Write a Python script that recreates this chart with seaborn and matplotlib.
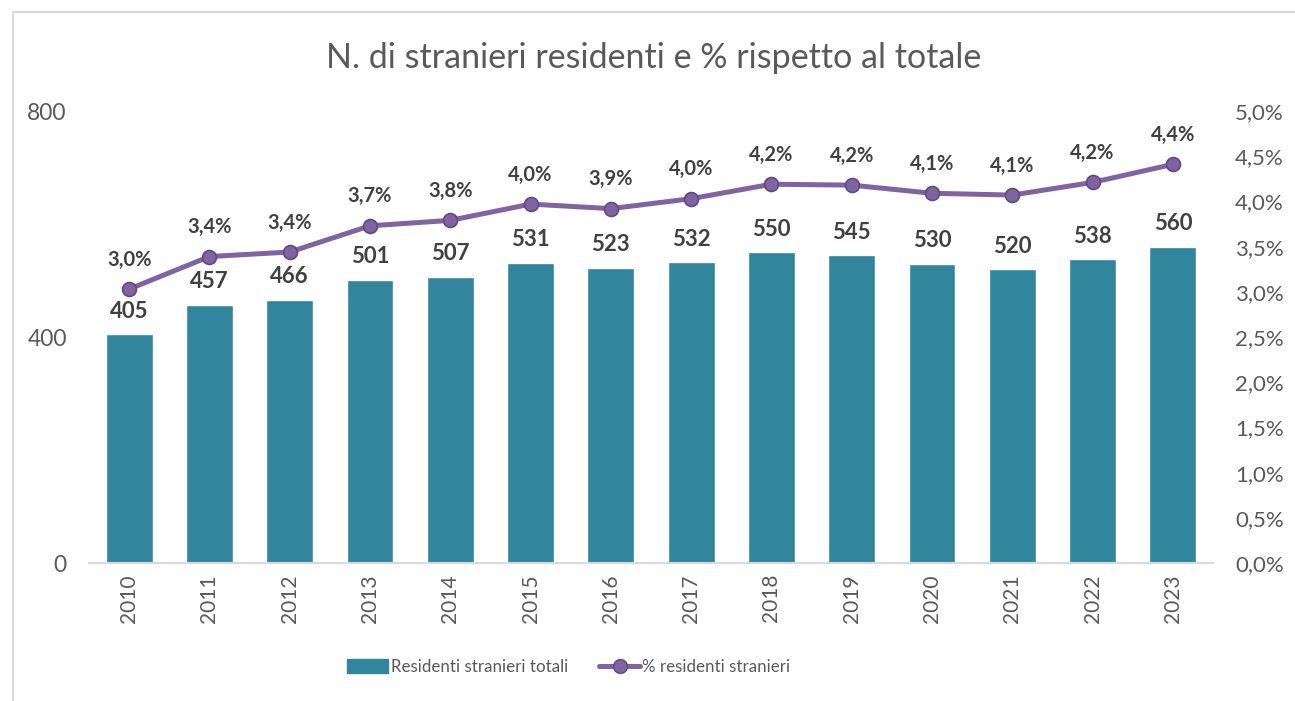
import pandas as pd
import seaborn as sns
import matplotlib.pyplot as plt
from matplotlib.lines import Line2D
from matplotlib.patches import Patch

anni = ["2010", "2011", "2012", "2013", "2014", "2015", "2016",
        "2017", "2018", "2019", "2020", "2021", "2022", "2023"]
residenti = [405, 457, 466, 501, 507, 531, 523, 532, 550, 545, 530, 520, 538, 560]
perc = [3.03, 3.39, 3.44, 3.73, 3.79, 3.97, 3.92, 4.03, 4.19, 4.18, 4.09, 4.07, 4.21, 4.41]

df = pd.DataFrame({"anno": anni, "residenti": residenti, "perc": perc})

TEAL = "#31859C"
PURPLE = "#8064A2"
PURPLE_EDGE = "#5E4A7E"
GRAY = "#595959"
DARK = "#404040"

sns.set_style("white")
plt.rcParams["font.family"] = ["Lato", "DejaVu Sans"]

fig = plt.figure(figsize=(12.95, 7.01), dpi=100)
ax = fig.add_axes([89 / 1295, 1 - 563 / 701, 1124 / 1295, 452 / 701])

sns.barplot(data=df, x="anno", y="residenti", color=TEAL, width=0.585,
            saturation=1, ax=ax)
ax.set_ylim(0, 800)
ax.set_yticks([0, 400, 800])
ax.set_xlim(-0.5, len(anni) - 0.5)
ax.set_xlabel("")
ax.set_ylabel("")
for s in ["top", "right", "left"]:
    ax.spines[s].set_visible(False)
ax.spines["bottom"].set_color("#D9D9D9")
ax.spines["bottom"].set_linewidth(1.5)
ax.tick_params(axis="y", length=0, labelsize=16.5, labelcolor=GRAY, pad=16)
ax.tick_params(axis="x", length=0, labelsize=15, labelcolor=GRAY, rotation=90, pad=8)

# etichette barre
for i, v in enumerate(residenti):
    ax.annotate(str(v), (i, v), xytext=(0, 9), textcoords="offset points",
                ha="center", va="bottom", fontsize=16, fontweight="bold", color=DARK)

ax2 = ax.twinx()
sns.pointplot(data=df, x="anno", y="perc", color=PURPLE, markers="o",
              linewidth=3.6, markersize=10, markeredgecolor=PURPLE_EDGE,
              markeredgewidth=1.2, ax=ax2)
ax2.set_ylim(0, 5)
ax2.set_xlim(-0.5, len(anni) - 0.5)
ax2.set_yticks([i * 0.5 for i in range(11)])
ax2.set_yticklabels([f"{i * 0.5:.1f}%".replace(".", ",") for i in range(11)])
ax2.set_ylabel("")
for s in ["top", "right", "left", "bottom"]:
    ax2.spines[s].set_visible(False)
ax2.tick_params(axis="y", length=0, labelsize=16, labelcolor=GRAY, pad=16)

for i, v in enumerate(perc):
    ax2.annotate(f"{v:.1f}%".replace(".", ","), (i, v), xytext=(0, 14),
                 textcoords="offset points", ha="center", va="bottom",
                 fontsize=14.5, fontweight="bold", color=DARK)

fig.text(0.505, 1 - 58 / 701, "N. di stranieri residenti e % rispetto al totale",
         ha="center", va="center", fontsize=24.5, color=GRAY)

handles = [Patch(facecolor=TEAL, edgecolor=TEAL),
           Line2D([0], [0], color=PURPLE, lw=3.6, marker="o", markersize=10,
                  markeredgecolor=PURPLE_EDGE)]
fig.legend(handles, ["Residenti stranieri totali", "% residenti stranieri"],
           loc="center", bbox_to_anchor=(569 / 1295, 1 - 667 / 701), ncol=2,
           frameon=False, fontsize=12.2, labelcolor=GRAY, handlelength=2.4,
           handleheight=0.9, handletextpad=0.15, columnspacing=1.85)

# bordo del grafico
fig.add_artist(Line2D([13 / 1295, 13 / 1295], [0, 1 - 12 / 701], color="#D9D9D9",
                      lw=1.5, transform=fig.transFigure))
fig.add_artist(Line2D([13 / 1295, 1], [1 - 12 / 701, 1 - 12 / 701], color="#D9D9D9",
                      lw=1.5, transform=fig.transFigure))

fig.savefig("out.png", dpi=100)
